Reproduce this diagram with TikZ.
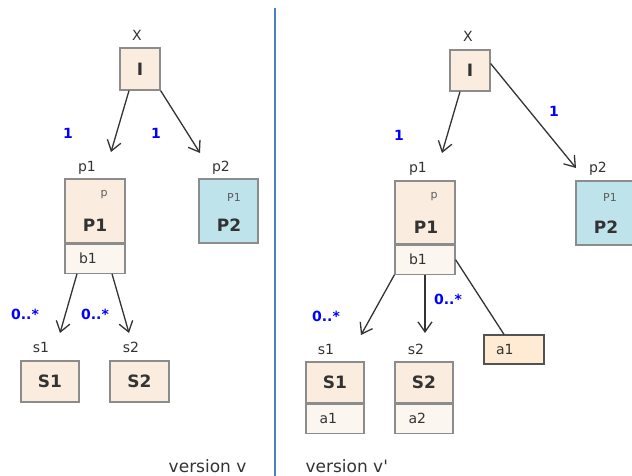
\documentclass[tikz,border=0pt]{standalone}
\usepackage{fontspec}
\setmainfont{DejaVu Sans}
\usetikzlibrary{arrows.meta}
\definecolor{mbeige}{rgb}{0.98, 0.93, 0.875}
\definecolor{mpale}{rgb}{0.99, 0.965, 0.945}
\definecolor{mcyan}{rgb}{0.75, 0.89, 0.92}
\definecolor{mpeach}{rgb}{1, 0.92, 0.83}
\definecolor{mframe}{rgb}{0.55, 0.55, 0.55}
\definecolor{mink}{rgb}{0.2, 0.2, 0.2}
\definecolor{mdiv}{rgb}{0.3, 0.5, 0.75}
\tikzset{cls/.style = {draw=mframe, fill=mbeige, line width=1.2pt, inner sep=0pt,
                       minimum width=59pt, minimum height=42pt, text=mink,
                       font=\fontsize{17}{17}\selectfont\bfseries}}
\tikzset{part/.style = {draw=mframe, fill=mpale, line width=1.2pt, anchor=north,
                        text width=32pt, align=left, inner xsep=14pt, inner ysep=0pt,
                        minimum height=29pt, text=mink, font=\fontsize{14}{14}\selectfont}}
\tikzset{cname/.style = {text=mink, font=\fontsize{17}{17}\selectfont\bfseries}}
\tikzset{stereo/.style = {text=mink!80, font=\fontsize{11}{11}\selectfont}}
\tikzset{lbl/.style = {text=mink, font=\fontsize{14}{14}\selectfont}}
\tikzset{mult/.style = {text=blue, font=\fontsize{14}{14}\selectfont\bfseries}}
\tikzset{assoc/.style = {draw=mink, line width=1.3pt, -{Straight Barb[length=10pt, width=14pt]}}}
\tikzset{link/.style = {draw=mink, line width=1.3pt}}

\begin{document}
\begin{tikzpicture}[x=1pt, y=-1pt]
    \useasboundingbox (0, 0) rectangle (632, 476);

    \draw [mdiv, line width=1.2pt] (275, 8) -- (275, 476);

    % version v
    \node [cls, minimum width=40pt] (Il) at (140, 69) {I};
    \node [lbl] (Xl) at (137, 35) {X};

    \node [cls, minimum width=60pt, minimum height=64pt] (P1l) at (95, 211) {};
    \node [cname] (P1ln) at (95, 225) {P1};
    \node [stereo] (P1ls) at (104, 195) {p};
    \node [part] (b1l) at (P1l.south) {b1};
    \node [lbl] (p1l) at (87, 168) {p1};

    \node [cls, fill=mcyan, minimum width=59pt, minimum height=64pt] (P2l) at (228.5, 211) {};
    \node [cname] (P2ln) at (229, 225) {P2};
    \node [stereo] (P2ls) at (234, 197) {P1};
    \node [lbl] (p2l) at (221, 168) {p2};

    \node [cls, minimum width=58pt, minimum height=41pt] (S1l) at (50, 381.5) {S1};
    \node [lbl] (s1l) at (41, 347) {s1};
    \node [cls, minimum width=59pt, minimum height=41pt] (S2l) at (139.5, 381.5) {S2};
    \node [lbl] (s2l) at (131, 347) {s2};

    \coordinate (tP1l) at (111, 152);
    \coordinate (tP2l) at (200, 153);
    \coordinate (tS1l) at (60, 333);
    \coordinate (tS2l) at (129, 333);

    \draw [assoc] ([xshift=-11pt]Il.south) -- (tP1l);
    \draw [assoc] (Il.south east) -- (tP2l);
    \draw [assoc] ([xshift=-18pt]b1l.south) -- (tS1l);
    \draw [assoc] ([xshift=17pt]b1l.south) -- (tS2l);

    \node [mult] (m1l) at (68, 133) {1};
    \node [mult] (m2l) at (156, 133) {1};
    \node [mult] (m3l) at (25, 314) {0..*};
    \node [mult] (m4l) at (95, 314) {0..*};

    \node [lbl, font=\fontsize{17}{17}\selectfont, anchor=base east] (vl) at (250, 472) {version v};

    % version v'
    \node [cls, minimum width=40pt, minimum height=41pt] (Ir) at (470, 70.5) {I};
    \node [lbl] (Xr) at (468, 36) {X};

    \node [cls, minimum width=60pt, minimum height=63pt] (P1r) at (425, 212.5) {};
    \node [cname] (P1rn) at (426, 227) {P1};
    \node [stereo] (P1rs) at (434, 197) {p};
    \node [part] (b1r) at (P1r.south) {b1};
    \node [lbl] (p1r) at (418, 169) {p1};

    \node [cls, fill=mcyan, minimum width=60pt, minimum height=64pt] (P2r) at (606, 213) {};
    \node [cname] (P2rn) at (606, 227) {P2};
    \node [stereo] (P2rs) at (610, 197) {P1};
    \node [lbl] (p2r) at (598, 169) {p2};

    \node [cls, minimum width=58pt, minimum height=41pt] (S1r) at (335, 382.5) {S1};
    \node [part, text width=31pt, inner xsep=13.5pt] (a1s) at (S1r.south) {a1};
    \node [lbl] (s1r) at (326, 349) {s1};
    \node [cls, minimum width=58pt, minimum height=41pt] (S2r) at (424, 382.5) {S2};
    \node [part, text width=31pt, inner xsep=13.5pt] (a2s) at (S2r.south) {a2};
    \node [lbl] (s2r) at (416, 349) {s2};

    \node [part, fill=mpeach, draw=mink!85, anchor=center, text width=36pt, inner xsep=12pt] (a1r) at (514, 349.5) {a1};

    \coordinate (tP1r) at (442, 153);
    \coordinate (tP2r) at (576, 168);
    \coordinate (tS1r) at (361, 335);
    \coordinate (tS2r) at (425, 333);

    \draw [assoc] ([xshift=-10pt]Ir.south) -- (tP1r);
    \draw [assoc] ([yshift=7pt]Ir.east) -- (tP2r);
    \draw [assoc] (b1r.south west) -- (tS1r);
    \draw [assoc] (b1r.south) -- (tS2r);
    \draw [link] (b1r.east) -- ([xshift=-10pt]a1r.north);

    \node [mult] (m1r) at (399, 135) {1};
    \node [mult] (m2r) at (554, 111) {1};
    \node [mult] (m3r) at (326, 316) {0..*};
    \node [mult] (m4r) at (448, 299) {0..*};

    \node [lbl, font=\fontsize{17}{17}\selectfont, anchor=base west] (vr) at (302, 472) {version v\textquotesingle};
\end{tikzpicture}
\end{document}
